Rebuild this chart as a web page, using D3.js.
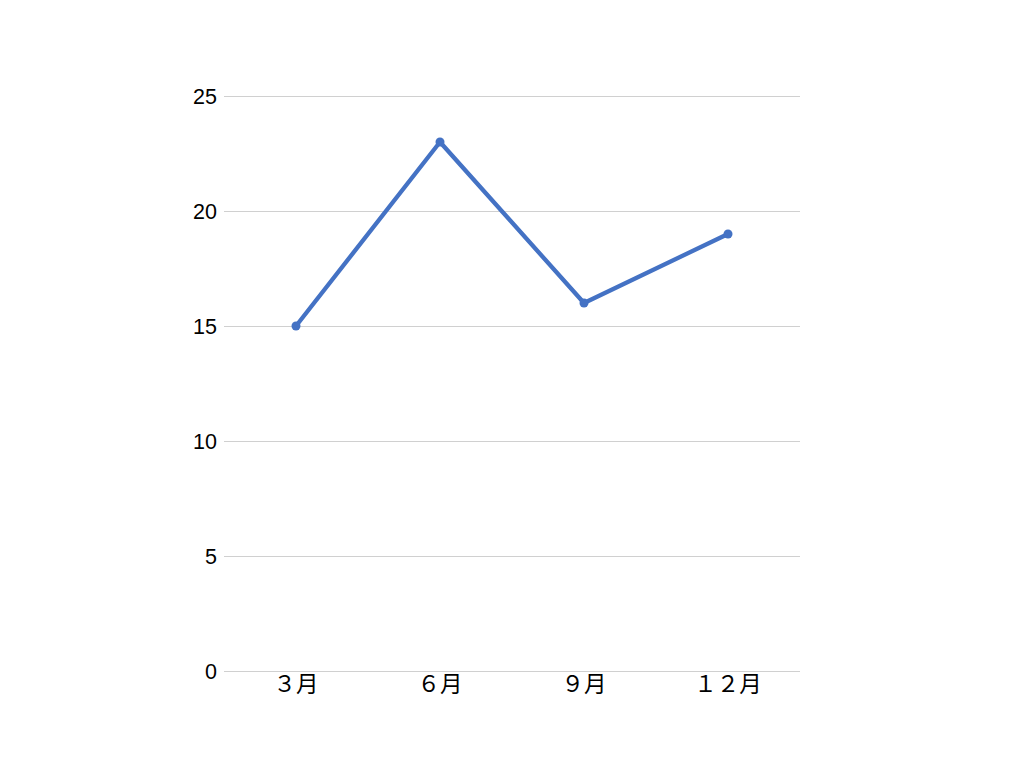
<!DOCTYPE html>
<html><head><meta charset="utf-8">
<script src="https://cdn.jsdelivr.net/npm/d3@7"></script>
<style>body{margin:0;background:#fff}</style>
</head><body>
<svg id="c" width="1024" height="768"></svg>
<script>
const categories = ["３月", "６月", "９月", "１２月"];
const values = [15, 23, 16, 19];
const yTicks = [0, 5, 10, 15, 20, 25];

(function () {
const svg = d3.select("#c");
const mLeft = 224, mRight = 800, mTop = 96, mBottom = 671;
const x = d3.scaleBand().domain(categories).range([mLeft, mRight]);
const y = d3.scaleLinear().domain([0, 25]).range([mBottom, mTop]);

const yAxis = svg.append("g").attr("transform", `translate(${mLeft},0)`)
  .call(d3.axisLeft(y).tickValues(yTicks).tickSize(-(mRight - mLeft)).tickPadding(7));
yAxis.select(".domain").remove();
yAxis.selectAll(".tick line").attr("stroke", "#d0d0d0").attr("stroke-width", 1);
yAxis.selectAll(".tick text").attr("font-family", "'Liberation Sans', Arial, sans-serif")
  .attr("font-size", 21.5).attr("fill", "#000").attr("dy", "0.35em");

const xAxis = svg.append("g").attr("transform", `translate(0,${mBottom})`)
  .call(d3.axisBottom(x).tickSize(0).tickPadding(5));
xAxis.select(".domain").remove();
xAxis.selectAll(".tick text").attr("font-family", "'Noto Sans CJK JP', sans-serif")
  .attr("font-size", 22.5).attr("fill", "#000");

const cx = d => x(d) + x.bandwidth() / 2;
const line = d3.line().x((d, i) => cx(categories[i])).y(d => y(d));
svg.append("path").datum(values).attr("d", line).attr("fill", "none")
  .attr("stroke", "#4472c4").attr("stroke-width", 4.3).attr("stroke-linejoin", "round");
svg.selectAll("circle.pt").data(values).join("circle").attr("class", "pt")
  .attr("cx", (d, i) => cx(categories[i])).attr("cy", d => y(d)).attr("r", 4.5).attr("fill", "#4472c4");
})();
</script>
</body></html>
